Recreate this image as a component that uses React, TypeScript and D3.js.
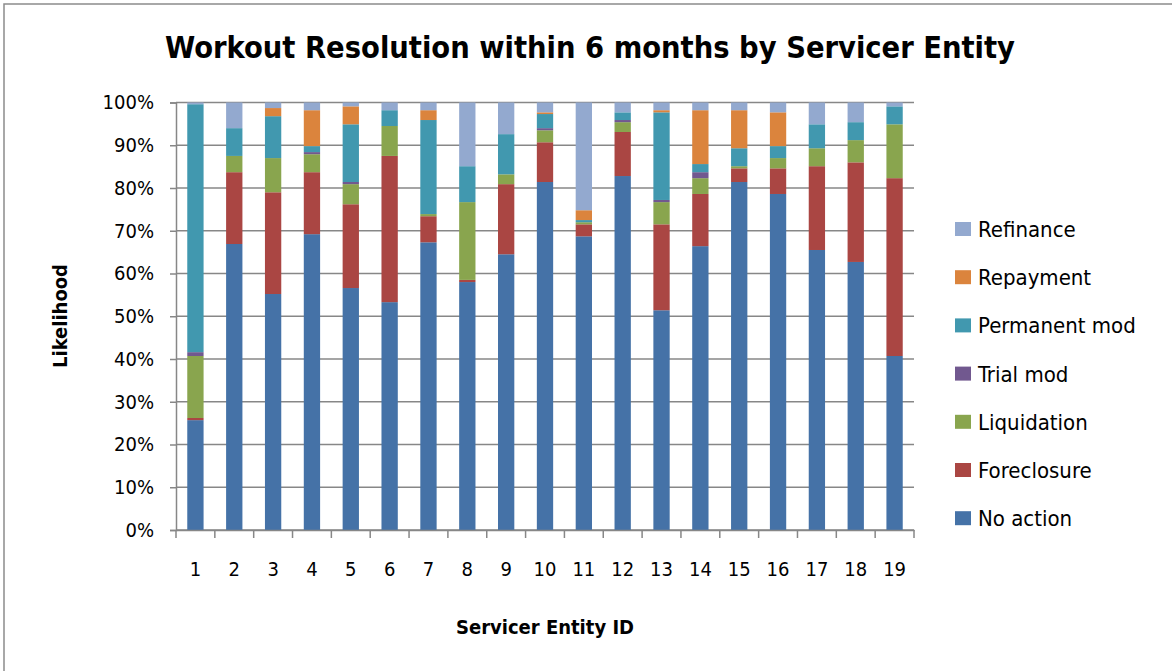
import React, { useEffect, useRef } from 'react';
import * as d3 from 'd3';

const entityIds = ['1','2','3','4','5','6','7','8','9','10','11','12','13','14','15','16','17','18','19'];
const seriesNames = ['No action','Foreclosure','Liquidation','Trial mod','Permanent mod','Repayment','Refinance'];
const seriesColors = ['#4572A7','#AA4643','#89A54E','#71588F','#4198AF','#DB843D','#93A9CF'];

// percent share per entity
const noAction =     [25.7,66.9,55.2,69.2,56.6,53.3,67.3,58.0,64.5,81.4,68.7,82.8,51.4,66.4,81.4,78.6,65.5,62.7,40.7];
const foreclosure =  [0.5,16.8,23.8,14.5,19.6,34.2,6.1,0.5,16.4,9.3,2.8,10.3,20.1,12.2,3.2,6.0,19.6,23.3,41.6];
const liquidation =  [14.5,3.8,8.0,4.2,4.7,7.0,0.5,18.2,2.3,2.8,0.5,2.3,5.2,3.7,0.5,2.4,4.2,5.2,12.6];
const trialMod =     [0.9,0,0,0.5,0.5,0,0,0,0,0.5,0,0.5,0.5,1.4,0,0,0,0,0];
const permanentMod = [58.0,6.5,9.8,1.4,13.5,3.7,22.0,8.4,9.4,3.3,0.5,1.8,20.5,1.9,4.2,2.8,5.6,4.2,4.2];
const repayment =    [0,0,1.9,8.4,4.2,0,2.3,0,0,0.4,2.3,0,0.5,12.6,8.9,7.9,0,0,0];
const refinance =    [0.4,6.0,1.3,1.8,0.9,1.8,1.8,14.9,7.4,2.3,25.2,2.3,1.8,1.8,1.8,2.3,5.1,4.6,0.9];
const yTicks = [0,10,20,30,40,50,60,70,80,90,100];

const allSeries = [noAction, foreclosure, liquidation, trialMod, permanentMod, repayment, refinance];

const W = 1172, H = 671;
const FONT = '"Liberation Sans Narrow","DejaVu Sans Condensed","Liberation Sans",sans-serif';

export default function App() {
    const ref = useRef<SVGSVGElement>(null);

    useEffect(() => {
        const svg = d3.select(ref.current);
        svg.selectAll('*').remove();

        const rows = entityIds.map((id, i) => {
            const r: any = { id };
            seriesNames.forEach((s, j) => { r[s] = allSeries[j][i]; });
            return r;
        });
        const stacked = d3.stack().keys(seriesNames)(rows);

        const x = d3.scaleBand().domain(entityIds).range([176, 914]).paddingInner(0.58).paddingOuter(0.29);
        const y = d3.scaleLinear().domain([0, 100]).range([530, 102.5]);
        const color = d3.scaleOrdinal<string>().domain(seriesNames).range(seriesColors);

        // chart border
        svg.append('rect').attr('x', 4).attr('y', 4).attr('width', W + 20).attr('height', H + 20)
            .attr('fill', 'white').attr('stroke', '#8c8c8c').attr('stroke-width', 1.5);

        svg.append('text').attr('x', 590).attr('y', 58).attr('text-anchor', 'middle')
            .attr('font-family', FONT).attr('font-weight', 'bold').attr('font-size', 31)
            .attr('textLength', 850).attr('lengthAdjust', 'spacingAndGlyphs')
            .text('Workout Resolution within 6 months by Servicer Entity');

        // gridlines
        svg.append('g').selectAll('line').data(yTicks).enter().append('line')
            .attr('x1', 176).attr('x2', 914)
            .attr('y1', d => y(d)).attr('y2', d => y(d))
            .attr('stroke', '#878787').attr('stroke-width', 1.5);

        // bars
        svg.append('g').selectAll('g').data(stacked).enter().append('g')
            .attr('fill', d => color(d.key))
            .selectAll('rect').data(d => d).enter().append('rect')
            .attr('x', (d: any) => x(d.data.id)!)
            .attr('width', x.bandwidth())
            .attr('y', d => y(d[1]))
            .attr('height', d => y(d[0]) - y(d[1]));

        // y axis
        const ya = svg.append('g').attr('transform', 'translate(176,0)')
            .call(d3.axisLeft(y).tickValues(yTicks).tickSize(6).tickPadding(16).tickFormat(d => d + '%'));
        ya.select('.domain').attr('stroke', '#878787').attr('stroke-width', 1.5);
        ya.selectAll('line').attr('stroke', '#878787').attr('stroke-width', 1.5);
        ya.selectAll('text').attr('font-family', FONT).attr('font-size', 20).attr('fill', '#000');

        // x axis
        const xa = svg.append('g').attr('transform', 'translate(0,530)')
            .call(d3.axisBottom(x).tickSize(0).tickPadding(32));
        xa.select('.domain').attr('stroke', '#878787').attr('stroke-width', 1.5);
        xa.selectAll('text').attr('font-family', FONT).attr('font-size', 20).attr('fill', '#000');
        const bounds = entityIds.map(id => x(id)! - x.step() * 0.29).concat([914]);
        xa.append('g').selectAll('line').data(bounds).enter().append('line')
            .attr('x1', d => d).attr('x2', d => d).attr('y1', 0).attr('y2', 8)
            .attr('stroke', '#878787').attr('stroke-width', 1.5);

        svg.append('text').attr('x', 545).attr('y', 634).attr('text-anchor', 'middle')
            .attr('font-family', FONT).attr('font-weight', 'bold').attr('font-size', 20)
            .text('Servicer Entity ID');
        svg.append('text').attr('transform', 'translate(67,316) rotate(-90)').attr('text-anchor', 'middle')
            .attr('font-family', FONT).attr('font-weight', 'bold').attr('font-size', 20)
            .text('Likelihood');

        // legend, top to bottom reversed
        const legendItems = seriesNames.slice().reverse();
        const lg = svg.append('g').selectAll('g').data(legendItems).enter().append('g')
            .attr('transform', (d, i) => `translate(955,${229 + i * 48.2})`);
        lg.append('rect').attr('x', 0).attr('y', -7).attr('width', 16).attr('height', 14)
            .attr('fill', d => color(d));
        lg.append('text').attr('x', 23).attr('y', 8).attr('font-family', FONT).attr('font-size', 22)
            .text(d => d);
    }, []);

    return (
        <svg ref={ref} width={W} height={H} style={{ position: 'absolute', left: 0, top: 0, background: '#fff' }} />
    );
}
